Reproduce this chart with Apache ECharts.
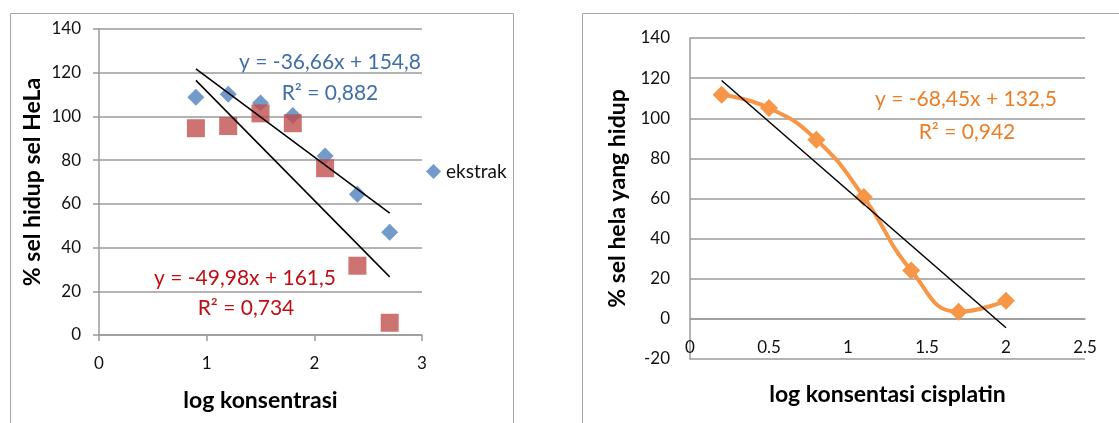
<!DOCTYPE html>
<html>
<head>
<meta charset="utf-8">
<script src="https://cdn.jsdelivr.net/npm/echarts@6/dist/echarts.min.js"></script>
<style>
  html, body { margin: 0; padding: 0; background: #fff; }
  #chart { width: 1119px; height: 423px; }
</style>
</head>
<body>
<div id="chart"></div>
<script>
// left panel: extract vs HeLa
const logKons = [0.9, 1.2, 1.5, 1.8, 2.1, 2.4, 2.7]
const ekstrak = [108.8, 110.1, 106.2, 100.4, 81.9, 64.4, 47.0]
const seri2 = [94.6, 95.6, 101.4, 96.9, 76.3, 31.7, 5.6]
const trendEkstrak = [[0.9, 121.8], [2.7, 55.8]]
const trendSeri2 = [[0.9, 116.5], [2.7, 26.6]]

// right panel: cisplatin
const logCis = [0.2, 0.5, 0.8, 1.1, 1.4, 1.7, 2.0]
const cisplatin = [111.7, 105.1, 89.3, 60.7, 24.1, 3.6, 9.0]
const trendCis = [[0.2, 118.8], [2.0, -4.4]]

const font = 'Lato, "Open Sans", sans-serif'
const gray = '#9a9a9a'
const blue = '#4f81bd'
const red = '#c0504d'
const orange = '#f79646'

const pairs = (xs, ys) => xs.map((x, i) => [x, ys[i]])

const chart = echarts.init(document.getElementById('chart'))

const axisText = { color: '#111', fontFamily: font, fontSize: 17 }
const titleText = { color: '#000', fontFamily: font, fontSize: 23, fontWeight: 'bold' }

// right grid is 321px tall for -20..140, so one 20-step is 321 / 8
const rightStep = 321 / 8

chart.setOption({
  animation: false,
  grid: [
    { left: 99, top: 29, width: 323, height: 306, outerBoundsMode: 'none', containLabel: false },
    { left: 690, top: 38, width: 395, height: 321, outerBoundsMode: 'none', containLabel: false }
  ],
  legend: {
    data: [{ name: 'ekstrak', icon: 'diamond' }],
    left: 421,
    top: 157,
    itemWidth: 15,
    itemHeight: 15,
    itemGap: 4,
    textStyle: { color: '#111', fontFamily: font, fontSize: 19 }
  },
  xAxis: [
    {
      gridIndex: 0, type: 'value', min: 0, max: 3, interval: 1,
      name: 'log konsentrasi', nameLocation: 'middle', nameGap: 54,
      nameTextStyle: titleText,
      axisLine: { lineStyle: { color: gray, width: 1.5 } },
      axisTick: { show: true, length: 6, lineStyle: { color: gray, width: 1.5 } },
      axisLabel: { ...axisText, margin: 20 },
      splitLine: { show: false }
    },
    {
      gridIndex: 1, type: 'value', min: 0, max: 2.5, interval: 0.5,
      offset: -rightStep,
      name: 'log konsentasi cisplatin', nameLocation: 'middle', nameGap: 64,
      nameTextStyle: titleText,
      axisLine: { onZero: false, lineStyle: { color: gray, width: 1.5 } },
      axisTick: { show: false },
      axisLabel: { ...axisText, margin: 20 },
      splitLine: { show: false }
    }
  ],
  yAxis: [
    {
      gridIndex: 0, type: 'value', min: 0, max: 140, interval: 20,
      name: '% sel hidup sel HeLa', nameLocation: 'middle', nameGap: 55,
      nameTextStyle: titleText,
      axisLine: { show: true, lineStyle: { color: gray, width: 1.5 } },
      axisTick: { show: true, length: 6, lineStyle: { color: gray, width: 1.5 } },
      axisLabel: { ...axisText, margin: 18 },
      splitLine: { lineStyle: { color: gray, width: 1.5 } }
    },
    {
      gridIndex: 1, type: 'value', min: -20, max: 140, interval: 20,
      name: '% sel hela yang hidup', nameLocation: 'middle', nameGap: 61,
      nameTextStyle: titleText,
      axisLine: { show: true, lineStyle: { color: gray, width: 1.5 } },
      axisTick: { show: false },
      axisLabel: { ...axisText, margin: 20 },
      splitLine: { lineStyle: { color: gray, width: 1.5 } }
    }
  ],
  series: [
    {
      name: 'ekstrak', type: 'scatter', xAxisIndex: 0, yAxisIndex: 0,
      symbol: 'diamond', symbolSize: 17,
      itemStyle: { color: blue },
      data: pairs(logKons, ekstrak), z: 3
    },
    {
      name: 'seri2', type: 'scatter', xAxisIndex: 0, yAxisIndex: 0,
      symbol: 'rect', symbolSize: 18,
      itemStyle: { color: red },
      data: pairs(logKons, seri2), z: 4
    },
    {
      name: 'trend ekstrak', type: 'line', xAxisIndex: 0, yAxisIndex: 0,
      symbol: 'none', lineStyle: { color: '#000', width: 1.5 },
      data: trendEkstrak, z: 5
    },
    {
      name: 'trend seri2', type: 'line', xAxisIndex: 0, yAxisIndex: 0,
      symbol: 'none', lineStyle: { color: '#000', width: 1.5 },
      data: trendSeri2, z: 5
    },
    {
      name: 'cisplatin', type: 'line', xAxisIndex: 1, yAxisIndex: 1,
      smooth: 0.5, symbol: 'diamond', symbolSize: 18,
      lineStyle: { color: orange, width: 4 },
      itemStyle: { color: orange },
      data: pairs(logCis, cisplatin), z: 3
    },
    {
      name: 'trend cisplatin', type: 'line', xAxisIndex: 1, yAxisIndex: 1,
      symbol: 'none', lineStyle: { color: '#000', width: 1.5 },
      data: trendCis, z: 5
    }
  ],
  graphic: [
    { type: 'rect', shape: { x: 10.5, y: 13.5, width: 503, height: 420 }, style: { fill: 'none', stroke: '#a6a6a6', lineWidth: 1 }, silent: true },
    { type: 'rect', shape: { x: 582.5, y: 13.5, width: 560, height: 420 }, style: { fill: 'none', stroke: '#a6a6a6', lineWidth: 1 }, silent: true },
    { type: 'text', x: 421, y: 62, style: { text: 'y = -36,66x + 154,8', fill: '#3f6fa8', font: '21px ' + font, textAlign: 'right', textVerticalAlign: 'middle' } },
    { type: 'text', x: 330, y: 93, style: { text: 'R² = 0,882', fill: '#3f6fa8', font: '21px ' + font, textAlign: 'center', textVerticalAlign: 'middle' } },
    { type: 'text', x: 245, y: 278, style: { text: 'y = -49,98x + 161,5', fill: '#c00d14', font: '21px ' + font, textAlign: 'center', textVerticalAlign: 'middle' } },
    { type: 'text', x: 246, y: 308, style: { text: 'R² = 0,734', fill: '#c00d14', font: '21px ' + font, textAlign: 'center', textVerticalAlign: 'middle' } },
    { type: 'text', x: 966, y: 99, style: { text: 'y = -68,45x + 132,5', fill: '#ec7d24', font: '21px ' + font, textAlign: 'center', textVerticalAlign: 'middle' } },
    { type: 'text', x: 967, y: 132, style: { text: 'R² = 0,942', fill: '#ec7d24', font: '21px ' + font, textAlign: 'center', textVerticalAlign: 'middle' } }
  ]
})
</script>
</body>
</html>
